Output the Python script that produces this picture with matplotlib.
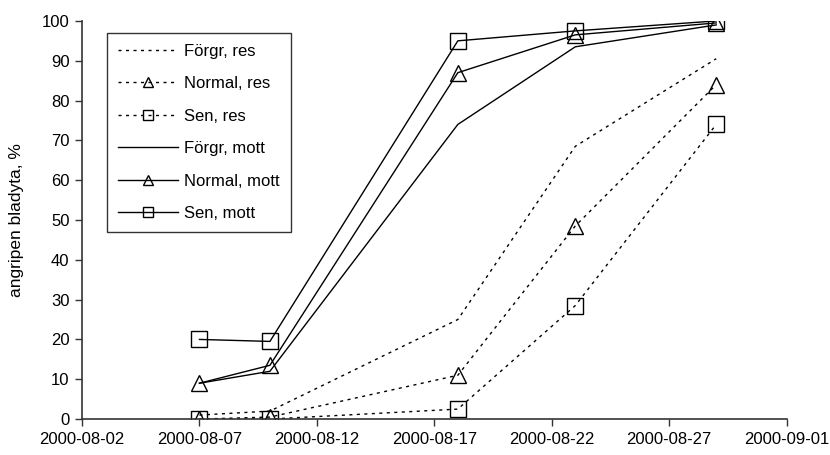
import numpy as np
import matplotlib
matplotlib.use("Agg")
import matplotlib.pyplot as plt
import matplotlib.dates as mdates
import datetime as dt

plt.rcParams['font.family'] = ['Liberation Sans', 'DejaVu Sans']

dates = ['2000-08-07', '2000-08-10', '2000-08-18', '2000-08-23', '2000-08-29']

forgr_res = [1, 2, 25, 68.5, 90.5]
normal_res = [0, 0.5, 11, 48.5, 84]
sen_res = [0, 0, 2.5, 28.5, 74]
forgr_mott = [9, 12, 74, 93.5, 99]
normal_mott = [9, 13.5, 87, 96.5, 99.5]
sen_mott = [20, 19.5, 95, 97.5, 100]

labels = ['Förgr, res', 'Normal, res', 'Sen, res',
          'Förgr, mott', 'Normal, mott', 'Sen, mott']

x = [dt.datetime.strptime(d, '%Y-%m-%d') for d in dates]

fig = plt.figure(figsize=(8.3, 4.55), dpi=100)
ax = fig.add_axes([0.0988, 0.079, 0.849, 0.875])

dash = (0, (2.2, 3.2))
series = [
    (forgr_res, dash, 'None'),
    (normal_res, dash, '^'),
    (sen_res, dash, 's'),
    (forgr_mott, '-', 'None'),
    (normal_mott, '-', '^'),
    (sen_mott, '-', 's'),
]
for (vals, ls, mk), lab in zip(series, labels):
    ax.plot(x, vals, color='black', linestyle=ls, linewidth=1.0,
            marker=mk, markersize=11, markerfacecolor='none',
            markeredgecolor='black', markeredgewidth=1.0, label=lab)

ax.set_xlim(dt.datetime(2000, 8, 2), dt.datetime(2000, 9, 1))
ax.set_ylim(0, 100)
ax.set_xticks([dt.datetime(2000, 8, 2) + dt.timedelta(days=5 * i) for i in range(7)])
ax.xaxis.set_major_formatter(mdates.DateFormatter('%Y-%m-%d'))
ax.set_yticks(range(0, 101, 10))

for s in ['top', 'right']:
    ax.spines[s].set_visible(False)
for s in ['left', 'bottom']:
    ax.spines[s].set_color('#333333')
    ax.spines[s].set_linewidth(1.2)
ax.tick_params(axis='both', direction='out', length=5, width=1.0,
               color='#333333', labelsize=12, pad=4)
ax.set_ylabel('angripen bladyta, %', fontsize=12.5)
ax.yaxis.set_label_coords(-0.083, 0.5)

leg = ax.legend(loc='upper left', bbox_to_anchor=(0.035, 0.97),
                fontsize=12, frameon=True, fancybox=False, edgecolor='black',
                handlelength=3.6, labelspacing=1.05, markerscale=0.7,
                borderpad=0.65, borderaxespad=0, handletextpad=0.4)
leg.get_frame().set_linewidth(1.0)

fig.savefig('out.png', dpi=100)
